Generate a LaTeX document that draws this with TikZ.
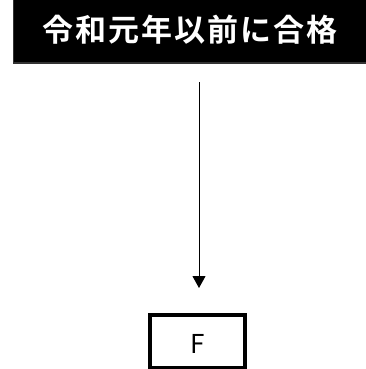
\documentclass[tikz,border=0pt]{standalone}
\usepackage{fontspec}
\newfontfamily\cjk{Noto Sans CJK JP}[BoldFont={* Bold}]
\usetikzlibrary{arrows.meta}
\begin{document}
\begin{tikzpicture}[x=1pt,y=-1pt,
  titlebox/.style={draw=black!80,fill=black,line width=1.2pt},
  fbox/.style={draw=black,line width=3.5pt,fill=white},
  conn/.style={line width=1pt,-{Triangle[width=13pt,length=12pt]}}]
\useasboundingbox (0,0) rectangle (366,369);
\draw[titlebox] (13.5,-3) rectangle (370,63);
\node[text=white,font=\cjk\bfseries\fontsize{31}{34}\selectfont,inner sep=0pt] (title) at (190,30) {令\kern2pt 和\kern2pt 元\kern2pt 年\kern2pt 以\kern2pt 前\kern2pt に\kern2pt 合\kern2pt 格};
\draw[fbox] (150,315) rectangle (245,367.5);
\node[font=\cjk\fontsize{26}{30}\selectfont,inner sep=0pt,anchor=base] (f) at (197.7,353.7) {F};
\coordinate (a1) at (199,82);
\coordinate (a2) at (199,288);
\draw[conn] (a1) -- (a2);
\end{tikzpicture}
\end{document}
